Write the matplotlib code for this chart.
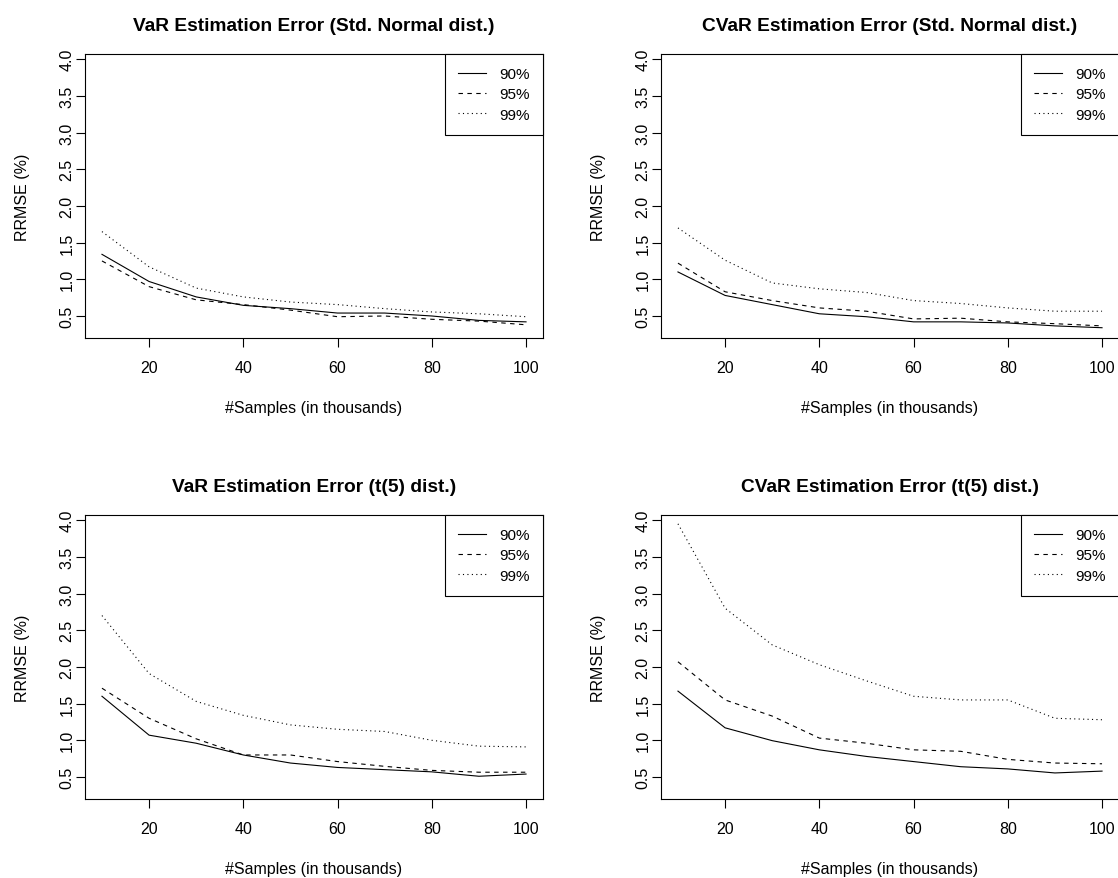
import matplotlib
matplotlib.use("Agg")
import matplotlib.pyplot as plt

plt.rcParams["font.family"] = ["Liberation Sans", "DejaVu Sans"]

# samples in thousands
x = [10, 20, 30, 40, 50, 60, 70, 80, 90, 100]
levels = ["90%", "95%", "99%"]

var_norm_90 = [1.34, 0.97, 0.76, 0.645, 0.60, 0.54, 0.54, 0.50, 0.44, 0.42]
var_norm_95 = [1.25, 0.90, 0.72, 0.655, 0.58, 0.49, 0.50, 0.455, 0.43, 0.38]
var_norm_99 = [1.65, 1.17, 0.88, 0.76, 0.69, 0.655, 0.60, 0.555, 0.53, 0.49]

cvar_norm_90 = [1.10, 0.78, 0.655, 0.53, 0.49, 0.42, 0.42, 0.405, 0.365, 0.34]
cvar_norm_95 = [1.22, 0.83, 0.71, 0.61, 0.565, 0.46, 0.47, 0.42, 0.395, 0.365]
cvar_norm_99 = [1.70, 1.26, 0.95, 0.87, 0.82, 0.71, 0.67, 0.61, 0.565, 0.565]

var_t5_90 = [1.60, 1.07, 0.96, 0.80, 0.69, 0.63, 0.60, 0.57, 0.51, 0.54]
var_t5_95 = [1.71, 1.30, 1.02, 0.80, 0.80, 0.71, 0.645, 0.59, 0.565, 0.565]
var_t5_99 = [2.70, 1.91, 1.53, 1.34, 1.21, 1.15, 1.12, 1.00, 0.92, 0.91]

cvar_t5_90 = [1.67, 1.17, 0.995, 0.87, 0.78, 0.71, 0.64, 0.61, 0.555, 0.58]
cvar_t5_95 = [2.07, 1.55, 1.33, 1.03, 0.96, 0.87, 0.85, 0.74, 0.69, 0.68]
cvar_t5_99 = [3.95, 2.80, 2.30, 2.03, 1.81, 1.60, 1.55, 1.55, 1.30, 1.28]

titles = ["VaR Estimation Error (Std. Normal dist.)",
          "CVaR Estimation Error (Std. Normal dist.)",
          "VaR Estimation Error (t(5) dist.)",
          "CVaR Estimation Error (t(5) dist.)"]
panels = [(var_norm_90, var_norm_95, var_norm_99),
          (cvar_norm_90, cvar_norm_95, cvar_norm_99),
          (var_t5_90, var_t5_95, var_t5_99),
          (cvar_t5_90, cvar_t5_95, cvar_t5_99)]

styles = ["-", (0, (4, 4)), (0, (1, 3))]
xticks = [20, 40, 60, 80, 100]
yticks = [0.5, 1.0, 1.5, 2.0, 2.5, 3.0, 3.5, 4.0]

W, H = 1118, 879
fig = plt.figure(figsize=(W / 100, H / 100), dpi=100)
# axes boxes in pixels: left, top
boxes = [(85, 55), (661, 55), (85, 516), (661, 516)]
bw, bh = 458, 284
fs = 11.5

for (l, t), title, series in zip(boxes, titles, panels):
    ax = fig.add_axes([l / W, (H - t - bh) / H, bw / W, bh / H])
    for ys, ls, lab in zip(series, styles, levels):
        ax.plot(x, ys, color="black", lw=0.8, linestyle=ls, label=lab)
    ax.set_xlim(6.4, 103.6)
    ax.set_ylim(0.2, 4.07)
    ax.set_xticks(xticks)
    ax.set_yticks(yticks)
    ax.set_yticklabels([f"{v:.1f}" for v in yticks], rotation=90, va="center")
    ax.tick_params(direction="out", length=6.5, width=0.8, labelsize=fs, colors="black")
    ax.tick_params(axis="x", pad=9.5)
    ax.tick_params(axis="y", pad=1)
    for s in ax.spines.values():
        s.set_linewidth(0.8)
    ax.set_xlabel("#Samples (in thousands)", fontsize=fs, labelpad=17.5)
    ax.set_ylabel("RRMSE (%)", fontsize=fs, labelpad=21)
    ax.set_title(title, fontsize=fs * 1.2, fontweight="bold", pad=17)
    leg = ax.legend(loc="upper right", borderaxespad=0, fancybox=False,
                    edgecolor="black", framealpha=1, fontsize=11,
                    handlelength=1.85, handletextpad=0.9, borderpad=0.85,
                    labelspacing=0.42)
    leg.get_frame().set_linewidth(0.8)

fig.savefig("out.png", dpi=100)
